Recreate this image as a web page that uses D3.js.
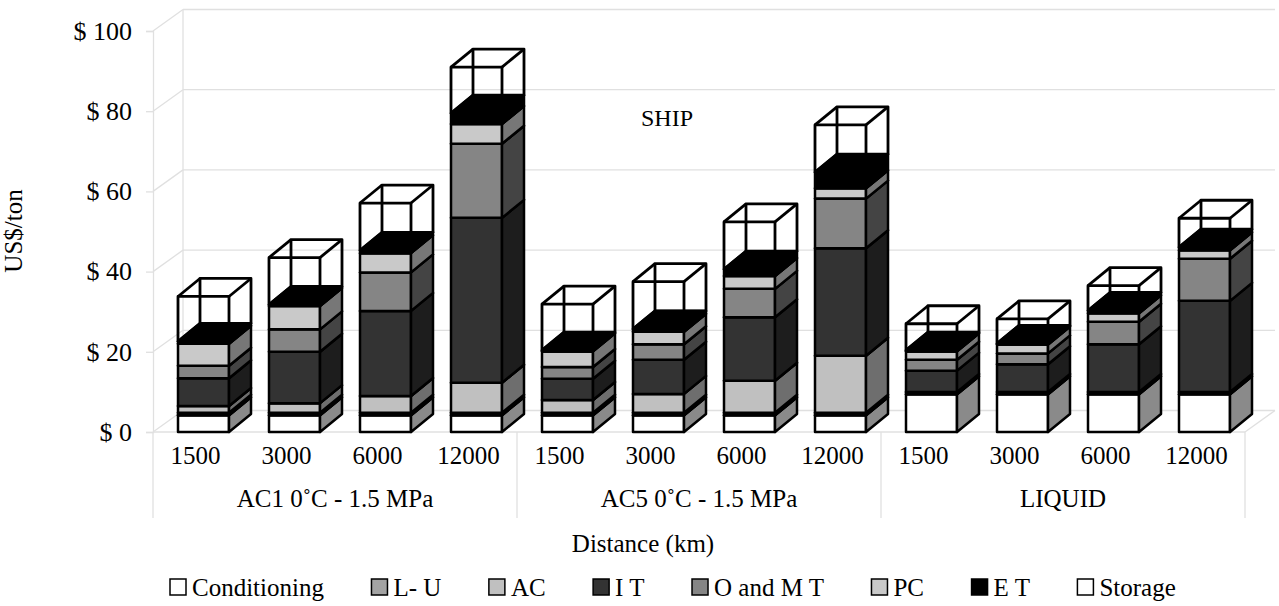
<!DOCTYPE html>
<html>
<head>
<meta charset="utf-8">
<script src="https://cdn.jsdelivr.net/npm/d3@7/dist/d3.min.js"></script>
<style>
  body { margin: 0; background: #fff; }
  text { font-family: "Liberation Serif", "Times New Roman", serif; fill: #000; }
</style>
</head>
<body>
<svg id="chart" width="1279" height="606"></svg>
<script>
// **** data ****
var groups = ["AC1 0\u02DAC - 1.5 MPa", "AC5 0\u02DAC - 1.5 MPa", "LIQUID"];
var distances = ["1500", "3000", "6000", "12000"];
var seriesNames = ["Conditioning", "L- U", "AC", "I T", "O and M T", "PC", "E T", "Storage"];
var yTicks = [0, 20, 40, 60, 80, 100];

// one value per bar: AC1 x4, AC5 x4, LIQUID x4
var conditioning = [4.2, 4.2, 4.2, 4.2, 4.2, 4.2, 4.2, 4.2, 9.4, 9.4, 9.4, 9.4];
var loadUnload   = [0.6, 0.6, 0.6, 0.6, 0.6, 0.6, 0.6, 0.6, 0.6, 0.6, 0.6, 0.6];
var acCost       = [1.7, 2.4, 4.2, 7.5, 3.2, 4.7, 8.0, 14.2, 0, 0, 0, 0];
var itCost       = [6.9, 12.8, 21.2, 41.1, 5.3, 8.5, 15.8, 26.8, 5.3, 6.9, 11.9, 22.7];
var omtCost      = [3.1, 5.6, 9.6, 18.5, 2.9, 3.9, 7.1, 12.4, 2.7, 2.7, 5.6, 10.5];
var pcCost       = [5.5, 5.8, 4.8, 4.9, 3.9, 3.1, 3.2, 2.6, 2.1, 2.2, 2.1, 2.1];
var etCost       = [0.6, 0.4, 0.7, 2.7, 0.3, 0.7, 1.7, 4.0, 0.3, 0.3, 0.7, 0.8];
var storage      = [11.2, 11.7, 11.8, 11.5, 11.5, 11.8, 11.8, 11.8, 6.6, 6.1, 6.2, 7.2];

var seriesValues = [conditioning, loadUnload, acCost, itCost, omtCost, pcCost, etCost, storage];

// **** styles ****
var frontColors = ["#ffffff", "#a3a3a3", "#c0c0c0", "#333333", "#858585", "#c9c9c9", "#000000", "none"];
var sideColors  = ["#8a8a8a", "#5c5c5c", "#6e6e6e", "#1d1d1d", "#444444", "#777777", "#000000", "none"];
var legendColors = ["#ffffff", "#a3a3a3", "#c0c0c0", "#333333", "#858585", "#c9c9c9", "#000000", "#ffffff"];
var gridColor = "#e0e0e0";

var svg = d3.select("#chart");

var left = 153, right = 1245;
var wallDX = 30, wallDY = 21.5;     // depth of the floor / walls
var barDX = 22, barDY = 18;         // depth of each bar
var barOffset = 25, barWidth = 51;  // bar front face inside its band

var keys = [];
groups.forEach(function (g, gi) {
    distances.forEach(function (d, di) { keys.push(gi + "-" + di); });
});

var xScale = d3.scaleBand().domain(keys).range([left, right]);
var groupScale = d3.scaleBand().domain(groups).range([left, right]);
var yScale = d3.scaleLinear().domain([0, 100]).range([432, 31]);

// **** walls and gridlines ****
var grid = svg.append("g").attr("stroke", gridColor).attr("stroke-width", 1.3).attr("fill", "none");

yTicks.forEach(function (t) {
    var yy = yScale(t);
    grid.append("line")
        .attr("x1", left + wallDX).attr("y1", yy - wallDY)
        .attr("x2", right + wallDX).attr("y2", yy - wallDY);
    grid.append("line")
        .attr("x1", left).attr("y1", yy)
        .attr("x2", left + wallDX).attr("y2", yy - wallDY);
});
grid.append("line")
    .attr("x1", left + wallDX).attr("y1", yScale(100) - wallDY)
    .attr("x2", left + wallDX).attr("y2", yScale(0) - wallDY);
// floor front and right edge
grid.append("line")
    .attr("x1", left).attr("y1", yScale(0))
    .attr("x2", right).attr("y2", yScale(0));
grid.append("line")
    .attr("x1", right).attr("y1", yScale(0))
    .attr("x2", right + wallDX).attr("y2", yScale(0) - wallDY);

// **** y axis ****
var yAxis = svg.append("g")
    .attr("transform", "translate(" + left + ",0)")
    .call(d3.axisLeft(yScale).tickValues(yTicks).tickFormat(function (d) { return "$ " + d; })
        .tickSize(7).tickPadding(14));
yAxis.select(".domain").attr("stroke", gridColor).attr("stroke-width", 1.3);
yAxis.selectAll(".tick line").attr("stroke", gridColor).attr("stroke-width", 1.3);
yAxis.selectAll(".tick text")
    .attr("font-family", "Liberation Serif")
    .attr("font-size", 26)
    .attr("fill", "#000");

svg.append("text")
    .attr("transform", "translate(22,231) rotate(-90)")
    .attr("text-anchor", "middle")
    .attr("font-size", 25)
    .text("US$/ton");

// **** category table under the floor ****
var table = svg.append("g").attr("stroke", gridColor).attr("stroke-width", 1.3);
groups.forEach(function (g) {
    table.append("line")
        .attr("x1", groupScale(g)).attr("y1", yScale(0))
        .attr("x2", groupScale(g)).attr("y2", 518);
});
table.append("line")
    .attr("x1", right).attr("y1", yScale(0))
    .attr("x2", right).attr("y2", 518);

svg.append("g")
    .selectAll("text")
    .data(keys)
    .enter()
    .append("text")
        .attr("x", function (k) { return xScale(k) + xScale.bandwidth() / 2 - 3; })
        .attr("y", 464)
        .attr("text-anchor", "middle")
        .attr("font-size", 25)
        .text(function (k) { return distances[+k.split("-")[1]]; });

svg.append("g")
    .selectAll("text")
    .data(groups)
    .enter()
    .append("text")
        .attr("x", function (g) { return groupScale(g) + groupScale.bandwidth() / 2; })
        .attr("y", 507)
        .attr("text-anchor", "middle")
        .attr("font-size", 25)
        .text(function (g) { return g; });

svg.append("text")
    .attr("x", 643).attr("y", 552)
    .attr("text-anchor", "middle")
    .attr("font-size", 25)
    .text("Distance (km)");

svg.append("text")
    .attr("x", 667).attr("y", 126)
    .attr("text-anchor", "middle")
    .attr("font-size", 24)
    .text("SHIP");

// **** 3D stacked bars ****
var pts = function (arr) { return arr.map(function (p) { return p.join(","); }).join(" "); };

var bars = svg.append("g").attr("stroke", "#000").attr("stroke-width", 2.5).attr("stroke-linejoin", "round");

keys.forEach(function (k, i) {
    var bx = xScale(k) + barOffset;
    var bx2 = bx + barWidth;
    var base = 0;
    var g = bars.append("g");
    seriesValues.forEach(function (vals, s) {
        var v = vals[i];
        if (v <= 0) { return; }
        var yb = yScale(base), yt = yScale(base + v);
        base += v;
        if (s === seriesValues.length - 1) {
            // open wireframe box on top
            var box = g.append("g").attr("fill", "none").attr("stroke-width", 2.8);
            box.append("rect").attr("x", bx).attr("y", yt).attr("width", barWidth).attr("height", yb - yt);
            box.append("rect").attr("x", bx + barDX).attr("y", yt - barDY).attr("width", barWidth).attr("height", yb - yt);
            [[bx, yt], [bx2, yt], [bx, yb], [bx2, yb]].forEach(function (p) {
                box.append("line")
                    .attr("x1", p[0]).attr("y1", p[1])
                    .attr("x2", p[0] + barDX).attr("y2", p[1] - barDY);
            });
            return;
        }
        g.append("rect")
            .attr("x", bx).attr("y", yt)
            .attr("width", barWidth).attr("height", yb - yt)
            .attr("fill", frontColors[s]);
        g.append("polygon")
            .attr("points", pts([[bx2, yb], [bx2 + barDX, yb - barDY], [bx2 + barDX, yt - barDY], [bx2, yt]]))
            .attr("fill", sideColors[s]);
        g.append("polygon")
            .attr("points", pts([[bx, yt], [bx + barDX, yt - barDY], [bx2 + barDX, yt - barDY], [bx2, yt]]))
            .attr("fill", s === 6 ? "#000" : frontColors[s]);
    });
});

// **** legend ****
var legend = svg.append("g").attr("transform", "translate(0,596)");
var lx = 170;
seriesNames.forEach(function (name, s) {
    legend.append("rect")
        .attr("x", lx).attr("y", -17)
        .attr("width", 16).attr("height", 16)
        .attr("fill", legendColors[s])
        .attr("stroke", "#000").attr("stroke-width", 1.5);
    var t = legend.append("text")
        .attr("x", lx + 22).attr("y", 0)
        .attr("font-size", 25)
        .text(name);
    lx += 22 + t.node().getComputedTextLength() + 47.5;
});
</script>
</body>
</html>
